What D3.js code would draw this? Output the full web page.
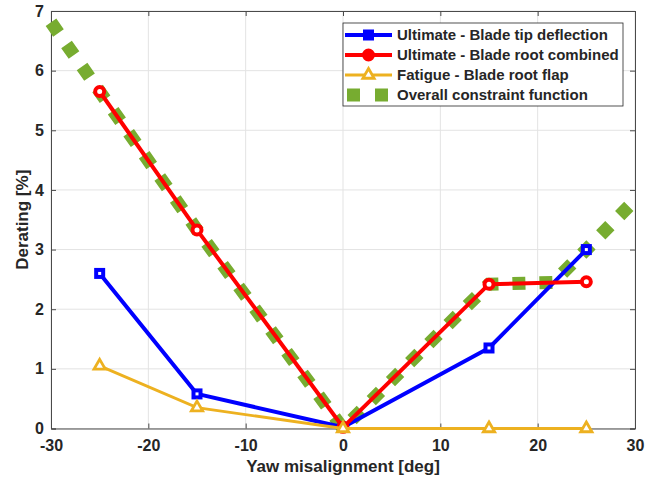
<!DOCTYPE html>
<html>
<head>
<meta charset="utf-8">
<script src="https://cdn.jsdelivr.net/npm/d3@7"></script>
<style>
  html, body { margin: 0; padding: 0; background: #fff; }
  svg text { font-family: "Liberation Sans", Arial, Helvetica, sans-serif; font-weight: bold; fill: #262626; }
</style>
</head>
<body>
<svg id="chart" width="654" height="481"></svg>
<script>
// Yaw misalignment angles (deg) where loads were evaluated
const yaw = [-25, -15, 0, 15, 25];

// Derating [%] per constraint
const tipDeflection = [2.6, 0.58, 0.02, 1.35, 3.0];
const rootCombined  = [5.65, 3.33, 0.02, 2.42, 2.46];
const rootFlapFatigue = [1.05, 0.35, 0.0, 0.0, 0.0];

// Overall constraint function (envelope of the constraints, extended to ±30 deg)
const overallYaw   = [-30, -25, -15, 0, 15, 21.6, 25, 30];
const overallValue = [6.81, 5.65, 3.33, 0.0, 2.42, 2.45, 3.0, 3.83];

const xTicks = [-30, -20, -10, 0, 10, 20, 30];
const yTicks = [0, 1, 2, 3, 4, 5, 6, 7];

const legendLabels = [
  "Ultimate - Blade tip deflection",
  "Ultimate - Blade root combined",
  "Fatigue - Blade root flap",
  "Overall constraint function"
];

const colors = { blue: "#0000ff", red: "#ff0000", yellow: "#edb120", green: "#77ac30" };

const svg = d3.select("#chart");
const m = { left: 51, right: 635, top: 11, bottom: 428.5 };

const x = d3.scaleLinear().domain([-30, 30]).range([m.left, m.right]);
const y = d3.scaleLinear().domain([0, 7]).range([m.bottom, m.top]);

// grid
const grid = svg.append("g");
grid.selectAll(".gx").data(xTicks).join("line")
  .attr("x1", d => x(d)).attr("x2", d => x(d))
  .attr("y1", m.top).attr("y2", m.bottom)
  .attr("stroke", "#e3e3e3").attr("stroke-width", 1);
grid.selectAll(".gy").data(yTicks).join("line")
  .attr("x1", m.left).attr("x2", m.right)
  .attr("y1", d => y(d)).attr("y2", d => y(d))
  .attr("stroke", "#e3e3e3").attr("stroke-width", 1);

// axes (ticks pointing inward, box on); plain hyphen for negatives
const fmt = d => String(d);
const axisColor = "#4a4a4a";
const xAxis = svg.append("g").attr("transform", `translate(0,${m.bottom})`)
  .call(d3.axisBottom(x).tickValues(xTicks).tickSize(-5).tickPadding(11).tickFormat(fmt));
const yAxis = svg.append("g").attr("transform", `translate(${m.left},0)`)
  .call(d3.axisLeft(y).tickValues(yTicks).tickSize(-5).tickPadding(7).tickFormat(fmt));
const xTop = svg.append("g").attr("transform", `translate(0,${m.top})`)
  .call(d3.axisTop(x).tickValues(xTicks).tickSize(-5).tickFormat(""));
const yRight = svg.append("g").attr("transform", `translate(${m.right},0)`)
  .call(d3.axisRight(y).tickValues(yTicks).tickSize(-5).tickFormat(""));

[xAxis, yAxis, xTop, yRight].forEach(g => {
  g.select(".domain").attr("stroke", axisColor).attr("stroke-width", 1);
  g.selectAll(".tick line").attr("stroke", axisColor).attr("stroke-width", 1);
  g.selectAll(".tick text").style("font-size", "16px").attr("fill", "#262626")
    .style("font-family", "'Liberation Sans', Arial, sans-serif").style("font-weight", "bold");
});

// axis titles
svg.append("text").attr("x", x(0)).attr("y", 472).attr("text-anchor", "middle")
  .style("font-size", "17px").text("Yaw misalignment [deg]");
svg.append("text").attr("transform", `translate(28,${y(3.5)}) rotate(-90)`)
  .attr("text-anchor", "middle").style("font-size", "17px").text("Derating [%]");

const line = d3.line().x(d => x(d[0])).y(d => y(d[1]));
const plot = svg.append("g");

// overall constraint function: thick dotted line
plot.append("path")
  .datum(d3.zip(overallYaw, overallValue))
  .attr("d", line).attr("fill", "none")
  .attr("stroke", colors.green).attr("stroke-width", 13)
  .attr("stroke-dasharray", "13 14").attr("stroke-linecap", "butt");

// blade tip deflection
plot.append("path").datum(d3.zip(yaw, tipDeflection)).attr("d", line)
  .attr("fill", "none").attr("stroke", colors.blue).attr("stroke-width", 4).attr("stroke-linejoin", "round");
plot.selectAll(".sq").data(d3.zip(yaw, tipDeflection)).join("rect")
  .attr("x", d => x(d[0]) - 3.5).attr("y", d => y(d[1]) - 3.5)
  .attr("width", 7).attr("height", 7)
  .attr("fill", "#fff").attr("stroke", colors.blue).attr("stroke-width", 4);

// blade root combined
plot.append("path").datum(d3.zip(yaw, rootCombined)).attr("d", line)
  .attr("fill", "none").attr("stroke", colors.red).attr("stroke-width", 4).attr("stroke-linejoin", "round");
plot.selectAll(".ci").data(d3.zip(yaw, rootCombined)).join("circle")
  .attr("cx", d => x(d[0])).attr("cy", d => y(d[1])).attr("r", 4.5)
  .attr("fill", "#fff").attr("stroke", colors.red).attr("stroke-width", 4);

// blade root flap fatigue
const tri = d3.symbol().type(d3.symbolTriangle).size(55);
plot.append("path").datum(d3.zip(yaw, rootFlapFatigue)).attr("d", line)
  .attr("fill", "none").attr("stroke", colors.yellow).attr("stroke-width", 2.8);
plot.selectAll(".tr").data(d3.zip(yaw, rootFlapFatigue)).join("path")
  .attr("d", tri).attr("transform", d => `translate(${x(d[0])},${y(d[1])})`)
  .attr("fill", "#fff").attr("stroke", colors.yellow).attr("stroke-width", 2.8);

// legend
const lg = svg.append("g");
lg.append("rect").attr("x", 343).attr("y", 23).attr("width", 280).attr("height", 83)
  .attr("fill", "#fff").attr("stroke", "#262626").attr("stroke-width", 0.8);
const rowY = i => 35 + i * 20;
legendLabels.forEach((lab, i) => {
  const cy = rowY(i);
  if (i === 3) {
    lg.append("line").attr("x1", 347).attr("x2", 390).attr("y1", cy).attr("y2", cy)
      .attr("stroke", colors.green).attr("stroke-width", 13).attr("stroke-dasharray", "13 15");
  } else {
    const c = [colors.blue, colors.red, colors.yellow][i];
    lg.append("line").attr("x1", 345).attr("x2", 392).attr("y1", cy).attr("y2", cy)
      .attr("stroke", c).attr("stroke-width", i === 2 ? 2.8 : 4);
    if (i === 0) lg.append("rect").attr("x", 365).attr("y", cy - 3.5).attr("width", 7).attr("height", 7)
      .attr("fill", c).attr("stroke", c).attr("stroke-width", 4);
    if (i === 1) lg.append("circle").attr("cx", 368.5).attr("cy", cy).attr("r", 4.5)
      .attr("fill", c).attr("stroke", c).attr("stroke-width", 4);
    if (i === 2) lg.append("path").attr("d", tri).attr("transform", `translate(368.5,${cy})`)
      .attr("fill", "#fff").attr("stroke", c).attr("stroke-width", 2.8);
  }
  lg.append("text").attr("x", 397).attr("y", cy + 5).style("font-size", "15px").text(lab);
});
</script>
</body>
</html>
